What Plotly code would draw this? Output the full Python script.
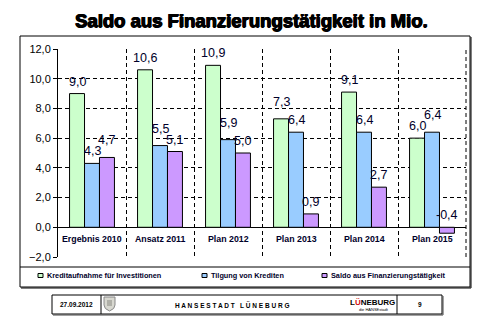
import plotly.graph_objects as go

# ---- data -------------------------------------------------------------
categories = ["Ergebnis 2010", "Ansatz 2011", "Plan 2012", "Plan 2013", "Plan 2014", "Plan 2015"]
series_names = ["Kreditaufnahme für Investitionen", "Tilgung von Krediten", "Saldo aus Finanzierungstätigkeit"]
kreditaufnahme = [9.0, 10.6, 10.9, 7.3, 9.1, 6.0]
tilgung = [4.3, 5.5, 5.9, 6.4, 6.4, 6.4]
saldo = [4.7, 5.1, 5.0, 0.9, 2.7, -0.4]
y_ticks = [-2, 0, 2, 4, 6, 8, 10, 12]
title_text = "Saldo aus Finanzierungstätigkeit in Mio."
footer_date = "27.09.2012"
footer_city = "H A N S E S T A D T   L Ü N E B U R G"
footer_page = "9"

series = [kreditaufnahme, tilgung, saldo]
colors = ["#CCFFCC", "#99CCFF", "#CC99FF"]

# ---- layout geometry (pixels) -----------------------------------------
W, H = 480, 325
L, R, T, B = 58, 14, 49, 68
PW, PH = W - L - R, H - T - B
BARGAP = 0.34
FONT = "Liberation Sans, Arial, sans-serif"
TEXT_DARK = "#00002a"


def px(x):
    return (x - L) / PW


def py(y):
    return (H - B - y) / PH


fig = go.Figure()
for name, vals, col in zip(series_names, series, colors):
    fig.add_trace(go.Bar(
        x=categories, y=vals, name=name,
        marker=dict(color=col, line=dict(color="black", width=1)),
        showlegend=False, hoverinfo="x+y",
    ))

# value labels above each bar (negative values sit on the zero line);
# when two neighbouring bars end at nearly the same height the taller
# one's label is lifted a little so the two labels do not collide
bar_w = PW / len(categories) * (1 - BARGAP) / len(series)
annotations = []
for i, vals in enumerate(series):
    shift = (i - 1) * bar_w
    for j, (c, v) in enumerate(zip(categories, vals)):
        lift = 0
        for k in (i - 1, i + 1):
            if 0 <= k < len(series):
                other = series[k][j]
                if 0 < v - other < 1.0:
                    lift = 5
        annotations.append(dict(
            x=c, y=max(v, 0), xref="x", yref="y",
            text=f"{v:.1f}".replace(".", ","),
            showarrow=False, yanchor="bottom", xanchor="center",
            xshift=shift, yshift=3 + lift,
            font=dict(family=FONT, size=12.5, color=TEXT_DARK),
        ))

# category names inside the plot, below the zero line
for c in categories:
    annotations.append(dict(
        x=c, y=-0.8, xref="x", yref="y", text=f"<b>{c}</b>",
        showarrow=False, yanchor="middle", xanchor="center",
        font=dict(family=FONT, size=8.8, color=TEXT_DARK),
    ))

# title
annotations.append(dict(
    x=px(251), y=py(20), xref="paper", yref="paper", text=f"<b>{title_text}</b>",
    showarrow=False, xanchor="center", yanchor="middle",
    font=dict(family=FONT, size=18.5, color="black",
              shadow="0.8px 0 0 #000, -0.5px 0 0 #000, 0 0.5px 0 #000"),
))

shapes = []
# custom legend
legend_x = [38, 202, 322]
for x0, name, col in zip(legend_x, series_names, colors):
    shapes.append(dict(type="rect", xref="paper", yref="paper",
                       x0=px(x0), x1=px(x0 + 5), y0=py(277.5), y1=py(273.5),
                       fillcolor=col, line=dict(color="black", width=1)))
    annotations.append(dict(
        x=px(x0 + 6.5), y=py(275), xref="paper", yref="paper", text=f"<b>{name}</b>",
        showarrow=False, xanchor="left", yanchor="middle",
        font=dict(family=FONT, size=7.3, color=TEXT_DARK),
    ))

# chart frame, legend separator and drop shadow
shapes += [
    dict(type="rect", xref="paper", yref="paper", x0=px(20), x1=px(470), y0=py(287), y1=py(36),
         line=dict(color="black", width=1)),
    dict(type="line", xref="paper", yref="paper", x0=px(20), x1=px(470), y0=py(267), y1=py(267),
         line=dict(color="black", width=1)),
    dict(type="line", xref="paper", yref="paper", x0=px(471), x1=px(471), y0=py(37), y1=py(288),
         line=dict(color="black", width=1)),
    dict(type="line", xref="paper", yref="paper", x0=px(21), x1=px(471), y0=py(288), y1=py(288),
         line=dict(color="black", width=1)),
    # right boundary of the last category
    dict(type="line", xref="paper", yref="paper", x0=1, x1=1, y0=0, y1=1,
         line=dict(color="black", width=1, dash="4px,3px")),
]

# footer strip
shapes += [
    dict(type="rect", xref="paper", yref="paper", x0=px(52), x1=px(442), y0=py(314), y1=py(295),
         line=dict(color="black", width=1)),
    dict(type="line", xref="paper", yref="paper", x0=px(443), x1=px(443), y0=py(296), y1=py(315),
         line=dict(color="#444", width=1)),
    dict(type="line", xref="paper", yref="paper", x0=px(53), x1=px(443), y0=py(315), y1=py(315),
         line=dict(color="#444", width=1)),
    dict(type="line", xref="paper", yref="paper", x0=px(101), x1=px(101), y0=py(295), y1=py(314),
         line=dict(color="black", width=1)),
    dict(type="line", xref="paper", yref="paper", x0=px(397), x1=px(397), y0=py(295), y1=py(314),
         line=dict(color="black", width=1)),
]
# small coat of arms
sx, sy = 104, 297
crest = (f"M {px(sx)},{py(sy)} L {px(sx + 11)},{py(sy)} L {px(sx + 11)},{py(sy + 8)} "
         f"Q {px(sx + 11)},{py(sy + 12)} {px(sx + 5.5)},{py(sy + 14)} "
         f"Q {px(sx)},{py(sy + 12)} {px(sx)},{py(sy + 8)} Z")
shapes.append(dict(type="path", xref="paper", yref="paper", path=crest,
                   fillcolor="#d8d8d0", line=dict(color="#888", width=1)))
shapes.append(dict(type="rect", xref="paper", yref="paper",
                   x0=px(sx + 3), x1=px(sx + 8), y0=py(sy + 9), y1=py(sy + 3),
                   fillcolor="#b0b0a8", line=dict(width=0)))

annotations += [
    dict(x=px(76), y=py(304.5), xref="paper", yref="paper", text=f"<b>{footer_date}</b>",
         showarrow=False, xanchor="center", yanchor="middle",
         font=dict(family=FONT, size=6.5, color="black")),
    dict(x=px(232), y=py(304.5), xref="paper", yref="paper", text=f"<b>{footer_city}</b>",
         showarrow=False, xanchor="center", yanchor="middle",
         font=dict(family=FONT, size=6.5, color="black")),
    dict(x=px(372), y=py(302), xref="paper", yref="paper",
         text="<b>L<span style='color:#d01010'>Ü</span>NEBURG</b>",
         showarrow=False, xanchor="center", yanchor="middle",
         font=dict(family=FONT, size=8, color="black")),
    dict(x=px(374), y=py(309.5), xref="paper", yref="paper", text="die HANSEstadt",
         showarrow=False, xanchor="center", yanchor="middle",
         font=dict(family=FONT, size=4, color="black")),
    dict(x=px(420), y=py(304.5), xref="paper", yref="paper", text=f"<b>{footer_page}</b>",
         showarrow=False, xanchor="center", yanchor="middle",
         font=dict(family=FONT, size=6.5, color="black")),
]

fig.update_layout(
    width=W, height=H,
    margin=dict(l=L, r=R, t=T, b=B, pad=0),
    paper_bgcolor="white", plot_bgcolor="white",
    barmode="group", bargap=BARGAP, bargroupgap=0,
    separators=",.",
    showlegend=False,
    annotations=annotations, shapes=shapes,
    font=dict(family=FONT, color="black"),
    xaxis=dict(
        type="category", range=[-0.5, len(categories) - 0.5],
        tickson="boundaries", showgrid=True, griddash="4px,3px",
        gridcolor="black", gridwidth=1,
        showticklabels=False, ticks="", showline=False, zeroline=False,
    ),
    yaxis=dict(
        range=[-2, 12], tickvals=y_ticks, tickformat=".1f",
        showgrid=True, griddash="4px,3px", gridcolor="black", gridwidth=1,
        zeroline=True, zerolinecolor="black", zerolinewidth=1,
        showline=True, linecolor="black", linewidth=1,
        ticks="outside", ticklen=4, tickcolor="black",
        tickfont=dict(family=FONT, size=11, color="black"),
    ),
)

fig.write_html("out.html")
